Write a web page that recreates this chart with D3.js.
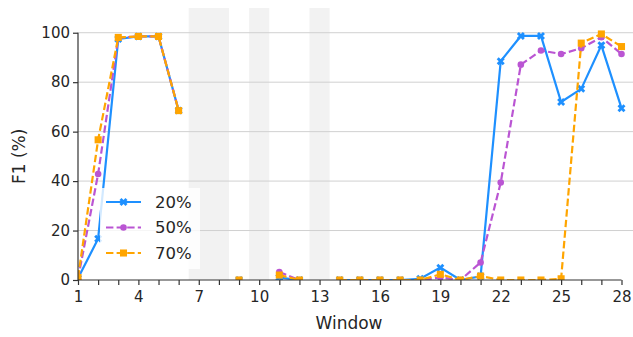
<!DOCTYPE html>
<html>
<head>
<meta charset="utf-8">
<script src="https://cdn.jsdelivr.net/npm/d3@7/dist/d3.min.js"></script>
<style>
  html, body { margin: 0; padding: 0; background: #fff; }
  svg { display: block; font-family: "DejaVu Sans", sans-serif; }
</style>
</head>
<body>
<svg id="chart" width="633" height="337"></svg>
<script>
// F1 score per window for three settings; null = window without data
const windows = d3.range(1, 29);
const f1_20 = [0.7, 16.7, 97.5, 98.5, 98.5, 68.5, null, null, 0, null, 1, 0, null,
  0, 0, 0, 0, 0.5, 5, 0, 1.5, 88.5, 98.7, 98.7, 72, 77.3, 94.9, 69.5];
const f1_50 = [0.5, 42.9, 98, 98.5, 98.5, 68.5, null, null, 0, null, 3.2, 0, null,
  0, 0, 0, 0, 0, 1, 0, 7.1, 39.4, 87.1, 92.8, 91.4, 93.7, 98.2, 91.4];
const f1_70 = [1, 56.7, 98.1, 98.5, 98.5, 68.5, null, null, 0, null, 2, 0, null,
  0, 0, 0, 0, 0, 2.3, 0, 1.6, 0, 0, 0, 0.5, 95.8, 99.5, 94.4];
const missingWindows = [[6.5, 8.5], [9.5, 10.5], [12.5, 13.5]];
const yTicks = [0, 20, 40, 60, 80, 100];
const xTickLabels = [1, 4, 7, 10, 13, 16, 19, 22, 25, 28];

const series = [
  { name: "20%", values: f1_20, color: "#1E90FF", dash: null, marker: "x" },
  { name: "50%", values: f1_50, color: "#BA55D3", dash: "7.4,3.2", marker: "circle" },
  { name: "70%", values: f1_70, color: "#FFA500", dash: "7.4,3.2", marker: "square" }
];

const svg = d3.select("#chart");
const plotL = 78, plotR = 633, plotT = 8, plotB = 280;

const x = d3.scaleLinear().domain([1, 28]).range([plotL, 621.5]);
const y = d3.scaleLinear().domain([0, 110]).range([plotB, plotT]);

svg.append("defs").append("clipPath").attr("id", "plotclip")
  .append("rect").attr("x", plotL).attr("y", plotT)
  .attr("width", plotR - plotL).attr("height", plotB - plotT);

// shaded windows without data
svg.append("g").selectAll("rect").data(missingWindows).join("rect")
  .attr("x", d => x(d[0])).attr("width", d => x(d[1]) - x(d[0]))
  .attr("y", plotT).attr("height", plotB - plotT)
  .attr("fill", "#f2f2f2");

// horizontal grid
svg.append("g").selectAll("line").data(yTicks.filter(t => t > 0)).join("line")
  .attr("x1", plotL).attr("x2", plotR)
  .attr("y1", d => y(d)).attr("y2", d => y(d))
  .attr("stroke", "#d0d0d0").attr("stroke-width", 1);

// marker shapes
function markerPath(kind) {
  if (kind === "circle") return d3.symbol(d3.symbolCircle, 34)();
  if (kind === "square") return d3.symbol(d3.symbolSquare, 50)();
  return d3.symbol(d3.symbolCross, 40)();
}

const plot = svg.append("g").attr("clip-path", "url(#plotclip)");
const line = d3.line()
  .defined(d => d.v !== null)
  .x(d => x(d.w)).y(d => y(d.v));

series.forEach(s => {
  const pts = windows.map((w, i) => ({ w, v: s.values[i] }));
  const g = plot.append("g");
  g.append("path").datum(pts)
    .attr("d", line)
    .attr("fill", "none")
    .attr("stroke", s.color)
    .attr("stroke-width", 2.2)
    .attr("stroke-dasharray", s.dash);
  g.selectAll("path.mk").data(pts.filter(d => d.v !== null)).join("path")
    .attr("class", "mk")
    .attr("d", markerPath(s.marker))
    .attr("transform", d => `translate(${x(d.w)},${y(d.v)})` + (s.marker === "x" ? " rotate(45)" : ""))
    .attr("fill", s.color);
});

// axes
const xAxis = d3.axisBottom(x)
  .tickValues(windows)
  .tickSize(5)
  .tickFormat(d => xTickLabels.includes(d) ? d : "");
const gx = svg.append("g").attr("transform", `translate(0,${plotB})`).call(xAxis);
gx.select(".domain").attr("stroke", "#333").attr("stroke-width", 1.2).attr("d", `M${x(1)},0H${x(28)}`);
gx.selectAll(".tick line").attr("stroke", "#333").attr("stroke-width", 1.2);
gx.selectAll(".tick text").attr("font-size", 15).attr("fill", "#262626")
  .attr("font-family", "DejaVu Sans").attr("dy", "0.95em");

const yAxis = d3.axisLeft(y).tickValues(yTicks).tickSize(5);
const gy = svg.append("g").attr("transform", `translate(${plotL},0)`).call(yAxis);
gy.select(".domain").attr("stroke", "#333").attr("stroke-width", 1.2).attr("d", `M0,${y(0)}V${y(100)}`);
gy.selectAll(".tick line").attr("stroke", "#333").attr("stroke-width", 1.2);
gy.selectAll(".tick text").attr("font-size", 15).attr("fill", "#262626")
  .attr("font-family", "DejaVu Sans");

// axis titles
svg.append("text")
  .attr("x", 349).attr("y", 329)
  .attr("text-anchor", "middle")
  .attr("font-size", 17).attr("fill", "#262626")
  .text("Window");
svg.append("text")
  .attr("transform", `translate(25,${(y(0) + y(100)) / 2}) rotate(-90)`)
  .attr("text-anchor", "middle")
  .attr("font-size", 17).attr("fill", "#262626")
  .text("F1 (%)");

// legend
const lg = svg.append("g");
lg.append("rect").attr("x", 100).attr("y", 188).attr("width", 100).attr("height", 81)
  .attr("fill", "#fff").attr("opacity", 0.8);
series.forEach((s, i) => {
  const cy = 202 + i * 25.5;
  lg.append("line").attr("x1", 106).attr("x2", 141).attr("y1", cy).attr("y2", cy)
    .attr("stroke", s.color).attr("stroke-width", 2.2).attr("stroke-dasharray", s.dash);
  lg.append("path").attr("d", markerPath(s.marker))
    .attr("transform", `translate(123.5,${cy})` + (s.marker === "x" ? " rotate(45)" : ""))
    .attr("fill", s.color);
  lg.append("text").attr("x", 155).attr("y", cy).attr("dy", "0.36em")
    .attr("font-size", 16.5).attr("fill", "#262626").text(s.name);
});
</script>
</body>
</html>
